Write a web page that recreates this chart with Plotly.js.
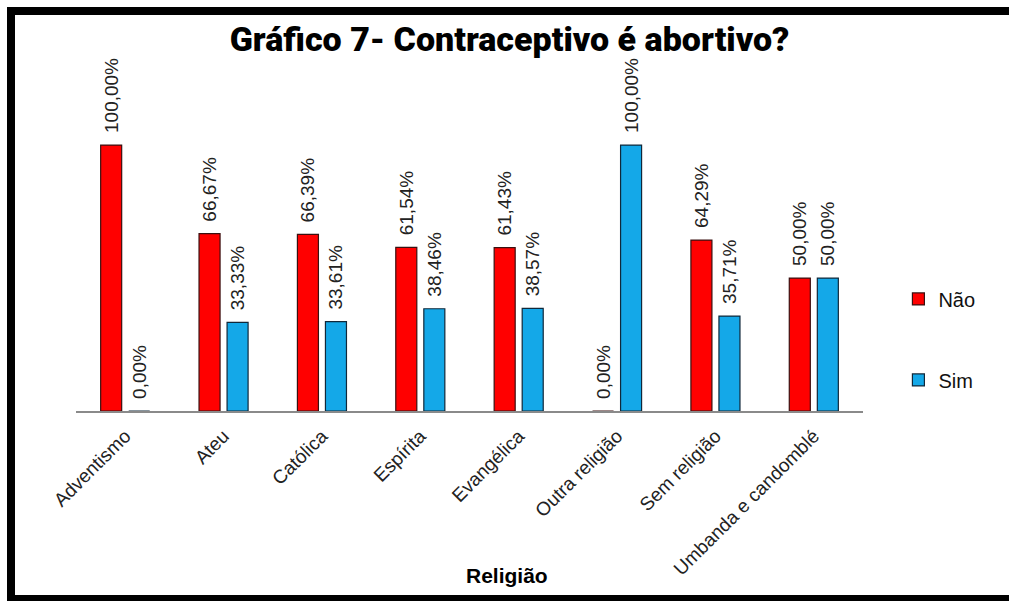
<!DOCTYPE html>
<html>
<head>
<meta charset="utf-8">
<script src="https://cdn.plot.ly/plotly-3.0.1.min.js"></script>
<style>
  html, body { margin: 0; padding: 0; background: #fff; }
  #wrap { position: relative; width: 1009px; height: 601px; overflow: hidden; }
  #chart { width: 1009px; height: 601px; }
  #frame { position: absolute; left: 7px; top: 7px; width: 1010px; height: 594px;
           border-left: 8px solid #000; border-top: 8px solid #000; border-bottom: 6px solid #000;
           box-sizing: border-box; pointer-events: none; }
</style>
</head>
<body>
<div id="wrap">
  <div id="chart"></div>
  <div id="frame"></div>
</div>
<script>
const categories = ["Adventismo", "Ateu", "Católica", "Espírita", "Evangélica", "Outra religião", "Sem religião", "Umbanda e candomblé"];
const naoValues = [100, 66.67, 66.39, 61.54, 61.43, 0, 64.29, 50];
const simValues = [0, 33.33, 33.61, 38.46, 38.57, 100, 35.71, 50];
const seriesNames = ["Não", "Sim"];
const axisTitle = "Religião";
const chartTitle = "Gráfico 7- Contraceptivo é abortivo?";

// leading spaces only push the label a little further from the bar end
function fmt(v) { return '\u00A0\u2009' + v.toFixed(2).replace('.', ',') + '%'; }

const labelFont = { family: "Liberation Sans, Arial, sans-serif", size: 19, color: "#222" };

const traces = [
  {
    type: 'bar', name: seriesNames[0], x: categories, y: naoValues,
    text: naoValues.map(fmt), textposition: 'outside', textangle: -90, constraintext: 'none',
    textfont: labelFont, cliponaxis: false, legendgroup: 'a',
    marker: { color: '#ff0000', line: { color: '#3a1010', width: 1.2 } },
    hoverinfo: 'x+y'
  },
  {
    type: 'bar', name: seriesNames[1], x: categories, y: simValues,
    text: simValues.map(fmt), textposition: 'outside', textangle: -90, constraintext: 'none',
    textfont: labelFont, cliponaxis: false, legendgroup: 'b',
    marker: { color: '#14a8e8', line: { color: '#10283a', width: 1.2 } },
    hoverinfo: 'x+y'
  }
];

const layout = {
  width: 1009, height: 601,
  paper_bgcolor: '#fff', plot_bgcolor: '#fff',
  margin: { l: 76, r: 146, t: 60, b: 190 },
  title: {
    text: chartTitle,
    font: { family: 'Roboto, Liberation Sans, sans-serif', size: 34, weight: 900, color: '#000' },
    x: 0.505, xanchor: 'center', y: 0.935, yanchor: 'middle'
  },
  barmode: 'group', bargap: 0.43, bargroupgap: 0.25,
  showlegend: true,
  legend: {
    x: 1.045, xanchor: 'left', y: 0.375, yanchor: 'top',
    font: { family: 'Liberation Sans, Arial, sans-serif', size: 20, color: '#111' },
    tracegroupgap: 52, traceorder: 'grouped', itemwidth: 30
  },
  xaxis: {
    type: 'category', tickangle: -45, ticklabelstandoff: 5,
    tickfont: { family: 'Liberation Sans, Arial, sans-serif', size: 19, color: '#222' },
    showline: true, linecolor: '#8a8a8a', linewidth: 1.5, layer: 'below traces',
    ticks: '', showgrid: false, zeroline: false
  },
  yaxis: {
    range: [0, 132], visible: false, showgrid: false, zeroline: false, fixedrange: true
  },
  annotations: [{
    text: axisTitle, xref: 'paper', yref: 'paper', x: 0.548, y: -0.468,
    xanchor: 'center', yanchor: 'middle', showarrow: false,
    font: { family: 'Liberation Sans, Arial, sans-serif', size: 21, weight: 700, color: '#000' }
  }]
};

Plotly.newPlot('chart', traces, layout, { displayModeBar: false, staticPlot: true });
</script>
</body>
</html>
